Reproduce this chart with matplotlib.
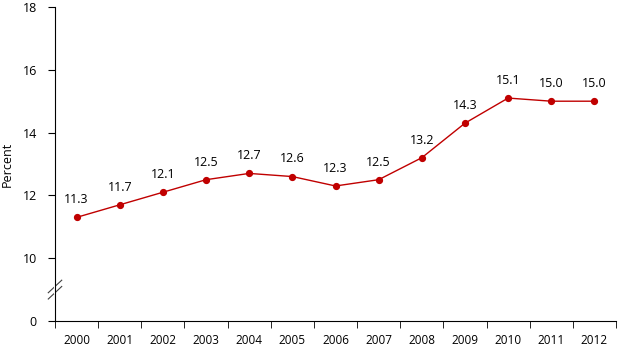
import matplotlib.pyplot as plt
import matplotlib.ticker as mticker

YEARS = ["2000", "2001", "2002", "2003", "2004", "2005", "2006",
         "2007", "2008", "2009", "2010", "2011", "2012"]
PERCENT = [11.3, 11.7, 12.1, 12.5, 12.7, 12.6, 12.3,
           12.5, 13.2, 14.3, 15.1, 15.0, 15.0]
Y_TICKS = [8, 10, 12, 14, 16, 18]
Y_TICK_LABELS = ["0", "10", "12", "14", "16", "18"]

RED = "#C00000"


def main():
    plt.rcParams["font.family"] = ["Open Sans", "DejaVu Sans"]
    fig = plt.figure(figsize=(6.35, 3.57), dpi=100)
    ax = fig.add_axes([55 / 635, 36 / 357, 561 / 635, 314 / 357])

    x = list(range(len(YEARS)))
    ax.plot(x, PERCENT, color=RED, linewidth=1.0, marker="o",
            markersize=4.2, markerfacecolor=RED, markeredgecolor=RED)
    for xi, v in zip(x, PERCENT):
        ax.annotate(f"{v:.1f}", (xi, v), xytext=(0, 8),
                    textcoords="offset points", ha="center", va="bottom",
                    fontsize=9)

    ax.set_xlim(-0.5, len(YEARS) - 0.5)
    ax.set_ylim(8, 18)
    ax.set_xticks(x)
    ax.set_xticklabels(YEARS, fontsize=8.5)
    ax.xaxis.set_minor_locator(mticker.FixedLocator([i - 0.5 for i in range(len(YEARS) + 1)]))
    ax.tick_params(axis="x", which="major", length=0, pad=9)
    ax.tick_params(axis="x", which="minor", length=5, direction="out")
    ax.set_yticks(Y_TICKS)
    ax.set_yticklabels(Y_TICK_LABELS, fontsize=9)
    ax.tick_params(axis="y", length=5, direction="out", pad=8)
    ax.set_ylabel("Percent", fontsize=9, labelpad=6)

    for side in ("top", "right"):
        ax.spines[side].set_visible(False)

    # axis break marks between 0 and 10
    kw = dict(transform=ax.transAxes, color="#404040", linewidth=0.8, clip_on=False)
    for y0 in (0.09, 0.11):
        ax.plot([-0.012, 0.012], [y0 - 0.02, y0 + 0.02], **kw)
    ax.plot([0, 0], [0.09, 0.11], transform=ax.transAxes, color="white",
            linewidth=1.5, clip_on=False)

    fig.savefig("out.png", dpi=100)
    plt.close(fig)


if __name__ == "__main__":
    main()
